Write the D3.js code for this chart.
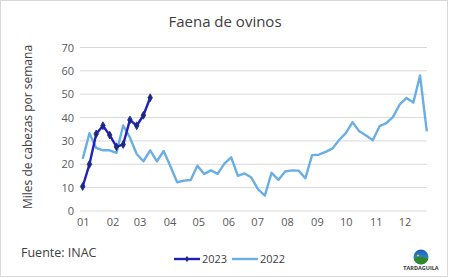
<!DOCTYPE html>
<html>
<head>
<meta charset="utf-8">
<script src="https://cdn.jsdelivr.net/npm/d3@7"></script>
<style>
  body { margin: 0; background: #fff; }
  svg { display: block; font-family: 'Open Sans', sans-serif; }
</style>
</head>
<body>
<svg id="chart" width="450" height="278"></svg>
<script>
// weekly values (miles de cabezas), first week starts 1 Jan
const weekStart = new Date(2023, 0, 1);
const values2023 = [10.5, 20, 33, 36.5, 32.5, 27.5, 28.5, 39, 36.5, 41, 48.5];
const values2022 = [22.3, 33.3, 27, 26, 26, 24.9, 36.6, 31.5, 24.4, 21.3,
    26, 21.3, 25.7, 19.2, 12.3, 13, 13.3, 19.4, 15.9, 17.4,
    15.9, 20.3, 23, 15, 16.1, 14.3, 9.3, 6.6, 16.4, 13.3,
    16.9, 17.4, 17.3, 14, 23.9, 24.1, 25.3, 26.7, 30.4, 33.3,
    38, 34.1, 32.3, 30.3, 36.3, 37.6, 40.3, 45.7, 48.4, 46.4,
    58, 34.1];
const yTicks = [0, 10, 20, 30, 40, 50, 60, 70];
const seriesNames = ['2023', '2022'];
const seriesColors = { '2023': '#2020c0', '2022': '#6aaee6' };

const toPoints = arr => arr.map((v, i) => ({ date: d3.timeDay.offset(weekStart, i * 7), value: v }));

const svg = d3.select('#chart');

// outer border
svg.append('rect')
    .attr('x', 0.5).attr('y', 0.5)
    .attr('width', 447).attr('height', 276)
    .attr('fill', '#fff')
    .attr('stroke', '#d9d9d9');

const x = d3.scaleTime()
    .domain([weekStart, d3.timeDay.offset(weekStart, 51 * 7)])
    .range([82.7, 426.8]);

const y = d3.scaleLinear()
    .domain([0, 70])
    .range([211, 47.5]);

// title
svg.append('text')
    .attr('x', 225).attr('y', 27)
    .attr('text-anchor', 'middle')
    .style('font-size', '15px')
    .style('fill', '#404040')
    .text('Faena de ovinos');

// y label
svg.append('text')
    .attr('transform', 'translate(32,127) rotate(-90)')
    .attr('text-anchor', 'middle')
    .style('font-size', '12px')
    .style('fill', '#404040')
    .text('Miles de cabezas por semana');

// gridlines
svg.append('g')
    .selectAll('line')
    .data(yTicks)
    .enter()
    .append('line')
    .attr('x1', 80).attr('x2', 427)
    .attr('y1', d => y(d)).attr('y2', d => y(d))
    .attr('stroke', '#d9d9d9')
    .attr('stroke-width', 1);

// y axis labels
const yAxis = svg.append('g')
    .attr('transform', 'translate(74,0)')
    .call(d3.axisLeft(y).tickValues(yTicks).tickSize(0).tickPadding(0));
yAxis.select('.domain').remove();
yAxis.selectAll('text')
    .style('font-family', "'Open Sans', sans-serif")
    .style('font-size', '11px')
    .style('fill', '#595959');

// x axis labels
const xAxis = svg.append('g')
    .attr('transform', 'translate(0,218)')
    .call(d3.axisBottom(x)
        .ticks(d3.timeMonth.every(1))
        .tickFormat(d3.timeFormat('%m'))
        .tickSize(0).tickPadding(0));
xAxis.select('.domain').remove();
xAxis.selectAll('text')
    .attr('dy', '0.71em')
    .style('font-family', "'Open Sans', sans-serif")
    .style('font-size', '11px')
    .style('fill', '#595959');

const line = d3.line()
    .x(d => x(d.date))
    .y(d => y(d.value));

svg.append('path')
    .datum(toPoints(values2022))
    .attr('d', line)
    .attr('fill', 'none')
    .attr('stroke', seriesColors['2022'])
    .attr('stroke-width', 2.4)
    .attr('stroke-linejoin', 'round');

const pts2023 = toPoints(values2023);
svg.append('path')
    .datum(pts2023)
    .attr('d', line)
    .attr('fill', 'none')
    .attr('stroke', seriesColors['2023'])
    .attr('stroke-width', 2.4)
    .attr('stroke-linejoin', 'round');

const diamond = d3.symbol().type(d3.symbolDiamond).size(18);
svg.append('g')
    .selectAll('path')
    .data(pts2023)
    .enter()
    .append('path')
    .attr('d', diamond)
    .attr('transform', d => `translate(${x(d.date)},${y(d.value)})`)
    .attr('fill', '#1a2a80')
    .attr('stroke', '#1a2a80')
    .attr('stroke-width', 0.8);

// legend
const legend = svg.append('g');
const legendX = { '2023': 174, '2022': 232 };
seriesNames.forEach(name => {
    const lx = legendX[name];
    legend.append('line')
        .attr('x1', lx).attr('x2', lx + 26)
        .attr('y1', 259).attr('y2', 259)
        .attr('stroke', seriesColors[name])
        .attr('stroke-width', 2.4);
    if (name === '2023') {
        legend.append('path')
            .attr('d', d3.symbol().type(d3.symbolDiamond).size(12))
            .attr('transform', `translate(${lx + 13},259)`)
            .attr('fill', '#1a2a80');
    }
    legend.append('text')
        .attr('x', lx + 28).attr('y', 263)
        .style('font-size', '11px')
        .style('fill', '#404040')
        .text(name);
});

// source
svg.append('text')
    .attr('x', 21).attr('y', 257)
    .style('font-size', '12.5px')
    .style('fill', '#404040')
    .text('Fuente: INAC');

// logo
const logo = svg.append('g').attr('transform', 'translate(421,257)');
const defs = svg.append('defs');
const grad = defs.append('linearGradient')
    .attr('id', 'logoSky').attr('x1', 0).attr('y1', 0).attr('x2', 0).attr('y2', 1);
grad.append('stop').attr('offset', '0%').attr('stop-color', '#1f5fb8');
grad.append('stop').attr('offset', '100%').attr('stop-color', '#39a0e0');
logo.append('circle').attr('r', 7.5).attr('fill', 'url(#logoSky)');
logo.append('path')
    .attr('d', 'M-7.3,1.5 Q0,-2 7.3,1.5 A7.5,7.5 0 0 1 -7.3,1.5 Z')
    .attr('fill', '#2f8a2a');
logo.append('circle').attr('cx', -3).attr('cy', -1.5).attr('r', 1).attr('fill', '#e8e020');
logo.append('text')
    .attr('x', 0).attr('y', 13)
    .attr('text-anchor', 'middle')
    .style('font-size', '5.5px')
    .style('font-weight', 'bold')
    .style('fill', '#333')
    .text('TARDAGUILA');
</script>
</body>
</html>
